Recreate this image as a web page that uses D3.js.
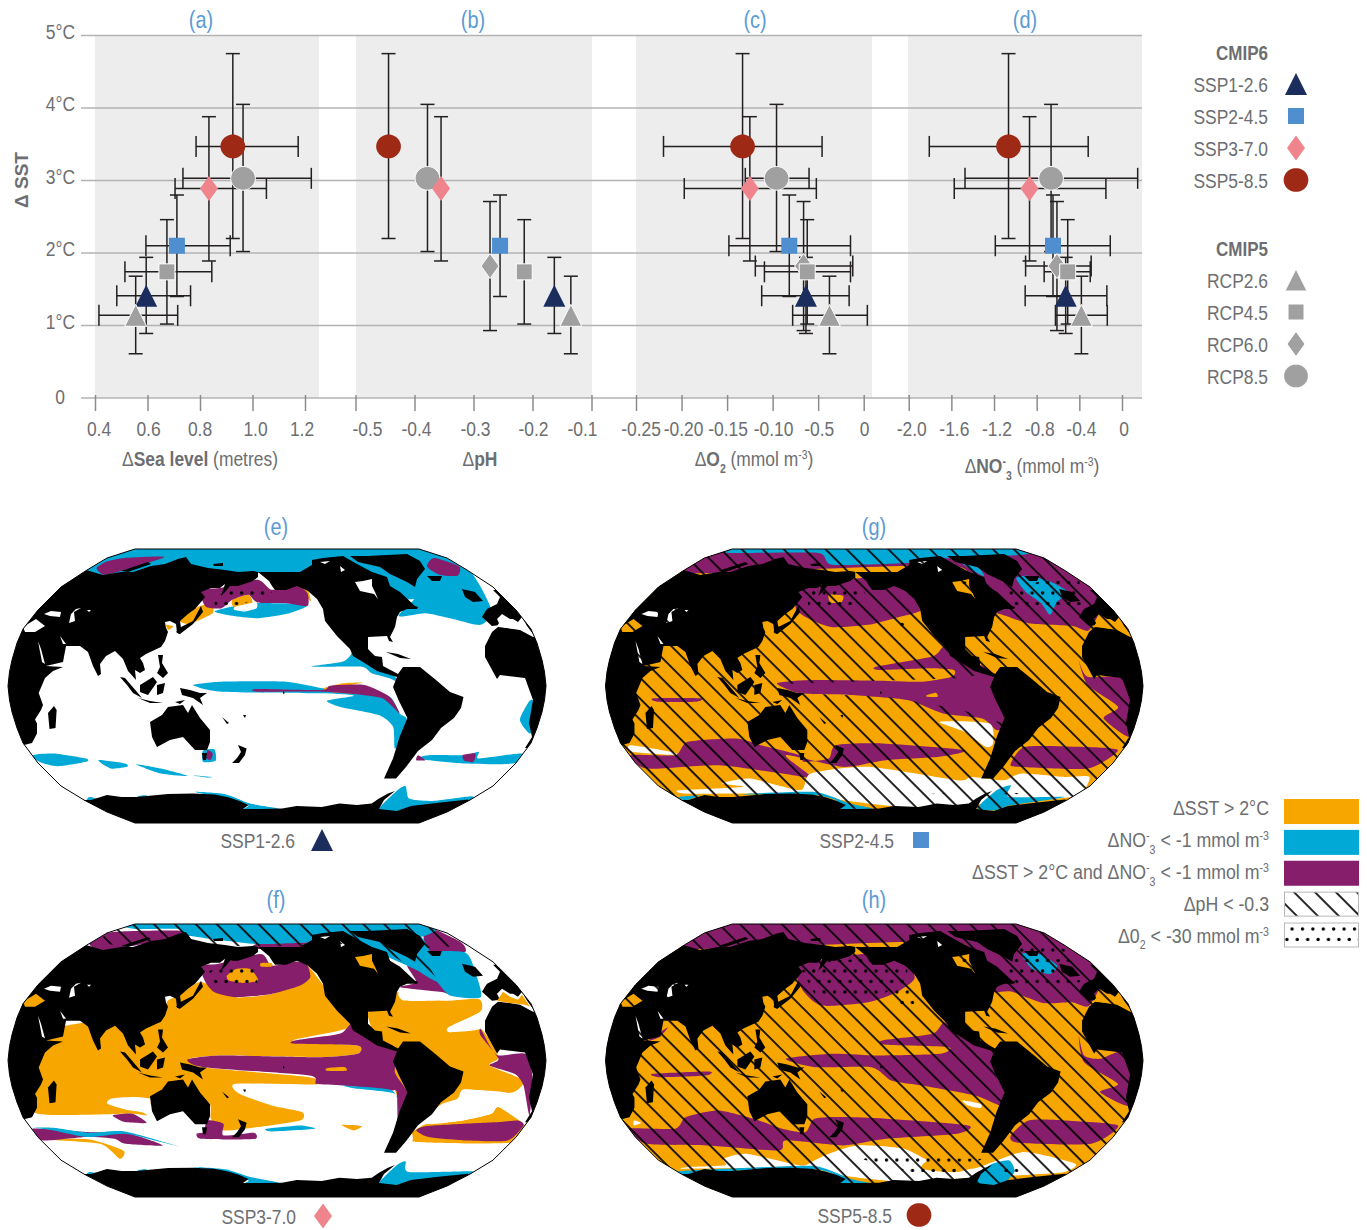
<!DOCTYPE html>
<html>
<head>
<meta charset="utf-8">
<script src="https://cdn.jsdelivr.net/npm/d3@7"></script>
<style>
  html, body { margin: 0; background: #fff; }
  text { font-family: "Liberation Sans", Arial, sans-serif; fill: #6d6e71; }
</style>
</head>
<body>
<svg id="chart" width="1367" height="1230"></svg>
<script>
// ---- scatter panels: values ----
var scenarios = ['SSP5-8.5', 'RCP8.5', 'SSP3-7.0', 'SSP2-4.5', 'RCP6.0', 'RCP4.5', 'SSP1-2.6', 'RCP2.6'];
var sstMean = [3.47, 3.03, 2.89, 2.10, 1.82, 1.74, 1.41, 1.14];
var sstLow  = [2.20, 2.02, 1.89, 1.40, 0.93, 1.02, 0.89, 0.61];
var sstHigh = [4.75, 4.05, 3.88, 2.80, 2.71, 2.46, 1.94, 1.68];

var seaMean = [0.925, 0.964, 0.834, 0.712, null, 0.674, 0.595, 0.555];
var seaLow  = [0.785, 0.735, 0.705, 0.594, null, 0.514, 0.483, 0.415];
var seaHigh = [1.174, 1.224, 1.053, 0.915, null, 0.845, 0.764, 0.715];

var phMean = [-0.444, -0.378, -0.355, -0.255, -0.272, -0.214, -0.163, -0.135];

var o2Mean = [-0.133, -0.0957, -0.125, -0.0817, -0.066, -0.062, -0.0634, -0.0376];
var o2Low  = [-0.2198, -0.130, -0.197, -0.148, -0.119, -0.109, -0.112, -0.078];
var o2High = [-0.0457, -0.060, -0.052, -0.0145, -0.012, -0.0145, -0.016, 0.004];

var no3Mean = [-1.064, -0.665, -0.867, -0.647, -0.61, -0.509, -0.528, -0.381];
var no3Low  = [-1.807, -1.472, -1.573, -1.188, -0.904, -0.73, -0.908, -0.624];
var no3High = [-0.317, 0.147, -0.151, -0.11, -0.289, -0.298, -0.142, -0.138];

var sstTicks = [1, 2, 3, 4, 5];
var seaTicks = [0.4, 0.6, 0.8, 1.0, 1.2];
var phTicks = [-0.5, -0.4, -0.3, -0.2, -0.1];
var o2Ticks = [-0.25, -0.20, -0.15, -0.10, -0.05, 0];
var o2TickLabels = ['-0.25', '-0.20', '-0.15', '-0.10', '-0.5', '0'];
var no3Ticks = [-2.0, -1.6, -1.2, -0.8, -0.4, 0];

var cmip6Names = ['SSP1-2.6', 'SSP2-4.5', 'SSP3-7.0', 'SSP5-8.5'];
var cmip5Names = ['RCP2.6', 'RCP4.5', 'RCP6.0', 'RCP8.5'];

// ---- map outline and land ----
var mapOutline = [[135,549],[107,558],[87,570],[61,587],[38,610],[23,629],[17,643],[12,660],[9.5,672],[8,686],[9.5,700],[12,712],[17,728],[23,743],[38,763],[61,786],[84,800],[107,812],[135,823],[419,823],[447,812],[470,800],[493,786],[516,763],[531,743],[537,728],[542,712],[544.5,700],[546,686],[544.5,672],[542,660],[537,643],[531,629],[516,610],[493,587],[467,570],[447,558],[419,549]];

var landShapes = [
  // Eurasia and Africa
  [[-10,746],[22,745.5],[32,743],[37,733.5],[37,723.5],[35,719.5],[41,710],[43,705],[38.7,693],[45,678],[53,671],[63,667],[46,666],[63,662],[66,646],[80,646],[88,652],[93,666],[98,676],[101,674],[100,664],[106,656],[115,651],[123,659],[128,671],[136,680],[135,670],[140,673],[145,670],[143,663],[140,658],[146,654],[161,647],[165,641],[168,632],[166,628],[165,622],[170,621],[176,624],[177,633],[180,634],[181,628],[180,621],[188,614],[195,609],[201,602],[205,597],[201,592],[211,588],[220,588],[225,584],[221,596],[226,591],[230,586],[238,586],[253,581],[258,577],[258,572],[253,571],[238,572],[225,570],[208,568],[191,564],[186,557],[178,559],[165,564],[151,566],[133,572],[121,572],[103,575],[86,570],[60,570],[-10,600]],
  [[121,571],[148,562],[151,564],[128,572]],
  [[213,564],[223,563],[223,566],[214,566]],
  // Japan
  [[201,606],[193,621],[181,627],[176,632],[180,634],[193,624],[203,612]],
  // South East Asia
  [[120,677],[125,678],[137,692],[142,698],[133,693],[127,685]],
  [[138,698],[150,701],[163,703],[150,703]],
  [[140,685],[153,677],[157,682],[155,685],[148,695],[140,692]],
  [[158,655],[163,655],[162,663],[168,673],[163,678],[157,673],[160,667]],
  [[157,685],[165,683],[163,693],[157,695]],
  [[180,688],[190,690],[200,693],[207,693],[200,698],[203,705],[193,698],[182,695]],
  [[175,702],[185,700],[180,704]],
  // Australia, Tasmania, New Zealand and islands
  [[150,722],[162,715],[168,707],[183,705],[188,713],[192,705],[200,718],[210,730],[210,742],[207,750],[195,750],[183,737],[170,740],[157,747],[152,737]],
  [[202,753],[207,753],[206,760],[203,760]],
  [[232,763],[237,758],[241,752],[238,745],[246.6,748.5],[245,755],[239,763]],
  [[222,717],[229,723],[227,724]],
  [[243,715],[246,715],[245,718]],
  [[283,691],[285,693],[283,694]],
  // Madagascar
  [[48,713],[54,706],[56.6,710],[55.5,728],[49.5,729]],
  // Greenland
  [[350,556],[367,556],[407,554],[420,561],[425,569],[417,579],[415,587],[407,582],[390,574],[380,567],[358,562]],
  // North and South America
  [[258,572],[275,572],[300,572],[312,565],[312,560],[323,558],[343,556],[357,564],[372,572],[387,577],[390,586],[400,592],[415,606],[418,607],[417,609],[407,609],[400,612],[397,617],[395,627],[390,637],[393,642],[389,641],[387,636],[368,637],[368,649],[375,656],[382,657],[383,666],[398,674],[403,667],[420,667],[436,680],[450,692],[463.5,697],[461,708],[454,718],[441,728],[432,740],[418,751],[406,767],[396,778.5],[384,778.5],[393,758.5],[399.6,737],[407.4,718],[398.5,700],[393,687],[397,677],[377,671],[363,662],[353,656],[350,649],[337,636],[325,621],[323,609],[317,599],[308,591],[297,586],[286,590],[275,590],[272,586],[269,581]],
  [[386,652],[398,654],[411,659],[400,658]],
  // Iceland, Britain, Europe, West Africa
  [[427,576],[442,576],[440,581],[432,581]],
  [[462,589],[475,592],[483,601],[473,602],[465,597]],
  [[493,590],[500,597],[497,604],[487,609],[485,612],[482,617],[492,626],[500,625],[497,619],[502,614],[510,619],[513,619],[518,622],[522,617],[527,626],[533,634],[600,640],[600,560],[520,590]],
  [[492,632],[498,627],[507,628],[520,630],[533,637],[600,640],[600,750],[525,748],[532,737],[529,723],[533,700],[525,678],[500,675],[497,679],[485,657],[485,646]],
  // Antarctica
  [[84,800],[91,800],[107,795],[121.6,797],[136,797],[147,796],[168,794],[193,793.6],[214.5,794.6],[229,797.6],[239.5,801],[248.5,805],[243,809],[261,809],[282,808.6],[296.7,806],[321.7,807],[339.5,803.6],[357,805],[371.7,803.6],[379,798.6],[388,793.6],[395,791],[384,800],[379,809],[396.7,811],[411,806],[436,803],[468,799.6],[475,804],[520,840],[30,840],[60,790]]
];
var alwaysWhite = [
  [[44,614],[51,611],[61,612],[60,617],[50,616]],
  [[69,623],[75,621],[74,612],[81,608],[76,609],[71,614]],
  [[38,641],[41,649],[45,664],[42,662]],
  [[60,636],[66,644],[63,644]],
  [[87,610],[91,610],[89,612]],
  [[320,562],[330,561],[325,564]],
  [[340,566],[345,570],[341,572]]
];
var inlandSeas = [
  [[23,627],[36,619],[45,626],[35,632],[25,632]],
  [[497,626],[503,617],[510,622],[518,625],[522,620],[530,632],[525,630],[507,628]],
  [[355,582],[363,581],[372,579],[372,586],[375,592],[378,599],[374,594],[360,591]]
];

var fullMap = [[[-50,50],[1650,50],[1650,1000],[-50,1000]]];

// ---- panel (e) SSP1-2.6 regions ----
var eCyan = [
  [[240,178],[300,145],[378,118],[1175,118],[1310,178],[1375,300],[1345,345],[1260,325],[1190,310],[1115,318],[1172,240],[1000,190],[800,190],[500,190],[300,200]],
  [[880,140],[1180,140],[1200,260],[1000,260]],
  [[600,305],[650,290],[720,280],[860,285],[810,310],[720,325],[650,318]],
  [[905,310],[925,340],[975,410],[1030,450],[1095,490],[1120,520],[1090,505],[1040,490],[1010,470],[870,470],[960,455],[985,420],[930,360]],
  [[540,525],[620,515],[800,515],[905,535],[985,540],[1090,560],[1118,610],[1138,625],[1130,680],[1105,715],[1100,650],[1060,615],[950,590],[915,572],[990,557],[900,550],[620,545]],
  [[1480,575],[1492,575],[1485,670],[1455,630]],
  [[90,735],[150,730],[240,745],[240,755],[160,768],[110,755]],
  [[275,750],[350,760],[355,770],[310,775]],
  [[380,762],[450,775],[525,797],[450,790]],
  [[535,795],[590,800],[580,802]],
  [[1165,745],[1200,735],[1300,735],[1340,725],[1340,745],[1460,730],[1462,755],[1400,762],[1300,760],[1200,750]],
  [[568,722],[600,718],[603,752],[568,755]],
  [[250,860],[275,868],[240,875]],
  [[385,858],[410,855],[405,868]],
  [[545,845],[630,852],[700,880],[780,895],[680,900],[695,885],[640,865]],
  [[1060,897],[1110,842],[1135,828],[1145,865],[1210,872],[1320,858],[1310,872],[1150,890],[1110,905]]
];
var eOrange = [
  [[650,270],[695,255],[705,280],[655,292]],
  [[500,330],[555,290],[590,285],[595,310],[530,342]],
  [[830,230],[860,238],[870,275],[850,250]],
  [[905,535],[960,520],[1015,518],[960,530],[985,550],[920,545]],
  [[465,345],[485,350],[470,360]]
];
var ePurple = [
  [[270,175],[290,195],[350,180],[460,142],[350,145],[300,155]],
  [[1195,170],[1215,145],[1285,170],[1280,198],[1230,195]],
  [[560,240],[615,235],[720,210],[760,240],[830,228],[860,250],[860,288],[800,280],[720,278],[695,255],[650,270],[620,295],[575,290]],
  [[720,537],[900,540],[925,527],[1020,525],[1090,560],[1118,610],[1070,565],[990,552],[900,545],[720,545]],
  [[1170,735],[1190,750],[1165,750]],
  [[1295,735],[1330,730],[1325,755],[1300,752]],
  [[580,720],[595,730],[590,748],[578,745]]
];
var eWhite = [
  [[660,290],[715,278],[718,295],[685,305],[655,300]]
];
var eDots = [[[600,262],[660,235],[760,235],[760,250],[660,290],[600,290]]];

// ---- panel (f) SSP3-7.0 regions ----
var fOrange = [
  [[60,500],[150,430],[300,400],[440,390],[470,345],[500,330],[555,290],[590,300],[660,335],[760,325],[850,285],[860,240],[905,300],[985,420],[820,465],[1000,480],[1000,505],[900,515],[620,510],[530,520],[570,545],[865,575],[885,597],[660,595],[670,625],[760,660],[845,680],[840,705],[720,725],[625,735],[590,700],[580,650],[430,660],[420,640],[370,635],[310,640],[300,655],[350,672],[395,680],[410,690],[360,685],[105,685],[60,600]],
  [[1030,395],[1080,375],[1110,320],[1240,345],[1340,340],[1345,378],[1258,425],[1260,440],[1345,430],[1395,515],[1370,540],[1465,585],[1430,622],[1300,612],[1280,640],[1230,660],[1150,740],[1195,715],[1295,705],[1375,685],[1395,665],[1465,715],[1465,730],[1430,772],[1170,770],[1150,735]],
  [[125,762],[250,762],[345,795],[335,820],[280,775]]
];
var fWhite = [
  [[1290,625],[1300,612],[1420,622],[1482,665],[1482,700],[1395,665],[1375,685],[1295,705],[1195,715],[1240,670],[1285,650]],
  [[1120,318],[1240,320],[1340,332],[1372,340],[1375,380],[1345,430],[1260,440],[1255,425],[1345,378],[1340,340],[1240,345],[1130,345]]
];
var fPurple = [
  [[250,175],[310,140],[500,135],[530,150],[345,185],[285,195]],
  [[1185,150],[1200,125],[1290,170],[1300,200],[1200,195]],
  [[1140,240],[1220,285],[1260,330],[1240,320],[1120,305],[1165,290]],
  [[560,240],[610,235],[730,205],[760,240],[830,228],[860,240],[868,275],[840,300],[760,325],[660,335],[600,320],[575,290]],
  [[720,175],[880,170],[880,190],[720,190]],
  [[525,522],[620,510],[900,515],[1000,505],[1000,480],[825,475],[825,465],[950,445],[985,415],[1040,450],[1110,490],[1105,560],[1140,620],[1145,680],[1115,720],[1110,620],[1090,615],[960,600],[885,595],[865,570],[570,545]],
  [[1345,430],[1370,480],[1395,510],[1470,505],[1490,570],[1482,690],[1465,600],[1440,565],[1370,540],[1395,520],[1345,450]],
  [[1165,735],[1195,722],[1300,715],[1400,710],[1450,705],[1465,720],[1420,765],[1300,765],[1200,755]],
  [[315,690],[370,685],[410,712],[350,710]],
  [[90,730],[240,740],[360,745],[455,780],[350,775],[320,760],[240,755],[120,765]],
  [[580,705],[625,715],[625,750],[710,742],[715,760],[650,762],[560,760],[550,745],[570,740]],
  [[960,720],[1005,722],[990,728]]
];
var fCyan = [
  [[378,115],[1175,115],[1190,150],[1000,175],[880,170],[720,175],[530,150],[500,130],[378,130]],
  [[1000,150],[1175,150],[1225,285],[1160,250],[1050,195]],
  [[1165,200],[1300,200],[1330,260],[1345,335],[1260,330],[1220,285],[1165,225]],
  [[960,600],[1090,612],[1112,640],[1115,680],[1105,625],[1000,610]],
  [[95,727],[150,727],[250,742],[350,738],[515,788],[450,770],[350,745],[245,755],[150,735]],
  [[745,730],[840,720],[880,730],[760,738]],
  [[250,860],[275,866],[240,872]],
  [[385,855],[410,852],[405,865]],
  [[540,845],[630,852],[700,875],[780,893],[680,898],[695,885],[640,862]],
  [[1060,895],[1110,840],[1135,828],[1145,860],[1320,858],[1310,868],[1150,890],[1110,900]]
];
var fOrangeTop = [
  [[635,270],[660,250],[700,250],[722,285],[680,292],[640,285]],
  [[730,232],[760,232],[760,243],[730,243]],
  [[915,548],[965,545],[968,556],[915,556]],
  [[955,718],[1012,722],[990,735]]
];
var fHatch = [
  [[250,175],[378,100],[1172,100],[1310,178],[1170,190],[1225,285],[1150,245],[1040,170],[880,180],[700,182],[450,180]]
];
var fDots = [[[575,265],[610,240],[720,240],[720,300],[590,310]]];

// ---- panel (g) SSP2-4.5 regions ----
var gPurple = [
  [[200,130],[370,100],[1170,100],[1400,250],[1370,360],[1320,348],[1200,340],[1110,310],[1000,300],[1000,170],[250,190]],
  [[555,240],[740,205],[860,240],[900,300],[825,325],[750,345],[650,352],[590,330],[550,300]],
  [[495,520],[590,510],[780,512],[900,515],[985,500],[990,480],[920,475],[780,480],[775,470],[930,440],[965,410],[1030,450],[1100,490],[1135,640],[1110,660],[1070,625],[960,610],[860,570],[700,555],[560,550]],
  [[1340,450],[1365,500],[1480,510],[1490,680],[1410,625],[1450,590],[1365,525]],
  [[150,565],[280,565],[270,575],[160,575]],
  [[85,735],[210,735],[245,695],[380,685],[450,705],[560,735],[570,755],[640,745],[660,705],[790,700],[1020,720],[950,740],[800,750],[680,770],[520,735],[590,800],[510,790],[330,765],[130,775]],
  [[1150,760],[1190,710],[1340,710],[1450,720],[1365,775],[1170,770]]
];
var gOrangeSpots = [
  [[640,255],[680,258],[675,278],[645,278]],
  [[915,555],[940,548],[945,560],[915,560]]
];
var gWhite = [
  [[85,705],[200,725],[210,735],[90,725]],
  [[340,820],[420,805],[560,840],[590,790],[750,770],[1000,810],[1040,800],[1130,810],[1180,790],[1300,800],[1370,800],[1340,855],[1220,870],[1000,885],[850,890],[680,870],[600,850],[400,850],[240,850],[220,840],[400,830]],
  [[950,635],[1090,640],[1100,700],[1080,710],[1020,665]]
];
var gCyan = [
  [[370,118],[1180,118],[1180,135],[880,150],[860,160],[650,165],[610,130],[370,130]],
  [[1165,205],[1195,198],[1260,215],[1315,250],[1280,275],[1260,315],[1235,280],[1190,245]],
  [[1005,155],[1060,175],[1075,200],[1040,180]],
  [[220,860],[280,855],[240,870]],
  [[395,852],[600,845],[700,880],[760,895],[675,900],[660,870],[600,855]],
  [[1055,895],[1110,840],[1150,825],[1145,860],[1300,860],[1150,885],[1105,900]]
];
var gHatch = [
  fullMap[0],
  [[520,522],[560,550],[800,560],[1000,595],[1130,640],[1100,490],[1000,505]]
];
var gDots = [
  [[575,240],[740,225],[740,270],[680,300],[585,300]],
  [[1130,240],[1340,190],[1350,300],[1170,300]],
  [[1000,215],[1040,215],[1040,240],[1000,240]],
  [[870,852],[965,850],[965,858],[870,860]],
  [[1130,848],[1175,848],[1175,860],[1130,860]],
  [[825,320],[865,320],[865,350],[825,350]]
];

// ---- panel (h) SSP5-8.5 regions ----
var hPurple = [
  [[200,130],[370,100],[1170,100],[1400,250],[1370,360],[1320,350],[1240,352],[1150,318],[1100,320],[1000,300],[1000,170],[250,190]],
  [[555,240],[740,205],[860,235],[880,280],[830,320],[750,350],[620,360],[565,310]],
  [[520,520],[650,505],[780,510],[950,505],[975,485],[800,478],[790,465],[930,445],[965,410],[1030,450],[1100,490],[1135,640],[1120,660],[1050,630],[900,600],[815,585],[760,545],[600,545]],
  [[1340,450],[1355,510],[1400,520],[1470,500],[1490,660],[1400,620],[1450,595],[1355,530]],
  [[148,565],[305,558],[295,570],[165,575]],
  [[135,465],[190,425],[165,455]],
  [[80,730],[210,730],[240,695],[330,675],[430,700],[510,730],[575,740],[600,700],[680,695],[800,700],[1030,720],[1000,745],[800,760],[680,780],[520,765],[500,795],[300,780],[130,775]],
  [[1150,750],[1200,705],[1300,705],[1450,720],[1375,775],[1170,772]]
];
var hCyan = [
  [[1180,205],[1230,205],[1280,240],[1260,265],[1210,250]],
  [[220,858],[400,848],[600,842],[700,880],[760,895],[675,898],[660,870],[600,852],[400,855],[240,870]],
  [[1050,895],[1090,840],[1145,825],[1160,860],[1120,900]]
];
var hWhite = [
  [[95,705],[115,712],[95,720]],
  [[345,820],[410,805],[560,840],[600,825],[640,805],[720,780],[850,790],[930,830],[1040,850],[1100,830],[1190,800],[1330,835],[1300,860],[1200,868],[1000,880],[850,890],[670,870],[600,850],[400,848],[230,850],[250,845],[350,840]],
  [[1015,645],[1065,655],[1065,668],[1030,660]]
];
var hOrangeSpots = [
  [[900,850],[930,820],[1060,825],[1095,828],[1000,860]]
];
var hDots = [
  [[565,255],[640,225],[740,220],[860,240],[860,290],[790,325],[600,325]],
  [[825,310],[880,310],[880,365],[825,365]],
  [[1130,240],[1180,170],[1300,190],[1345,290],[1170,300]],
  [[1000,215],[1040,215],[1040,240],[1000,240]],
  [[710,815],[1070,820],[1000,860],[870,860]],
  [[1125,848],[1175,848],[1175,860],[1125,860]]
];

var legendLabels = [
  [{t: '\u0394SST > 2\u00b0C'}],
  [{t: '\u0394NO'}, {t: '-', sup: 1}, {t: '3', sub: 1}, {t: ' < -1 mmol m'}, {t: '-3', sup: 1}],
  [{t: '\u0394SST > 2\u00b0C and \u0394NO'}, {t: '-', sup: 1}, {t: '3', sub: 1}, {t: ' < -1 mmol m'}, {t: '-3', sup: 1}],
  [{t: '\u0394pH < -0.3'}],
  [{t: '\u03940'}, {t: '2', sub: 1}, {t: ' < -30 mmol m'}, {t: '-3', sup: 1}]
];

// ---- look ----
var ORANGE = '#f7a600', CYAN = '#00a9d6', PURPLE = '#871e6b', BLACK = '#000', WHITE = '#fff';
var LINE = '#b3b3b3', PANEL = '#ededed', BAR = '#231f20', BLUE = '#5b9bd5';

var markerStyle = {
  'SSP5-8.5': {shape: 'circle', fill: '#9e2a16'},
  'RCP8.5':   {shape: 'circle', fill: '#a0a0a0', edge: 1},
  'SSP3-7.0': {shape: 'diamond', fill: '#f0848d'},
  'SSP2-4.5': {shape: 'square', fill: '#4f8fd0'},
  'RCP6.0':   {shape: 'diamond', fill: '#a0a0a0', edge: 1},
  'RCP4.5':   {shape: 'square', fill: '#a0a0a0', edge: 1},
  'SSP1-2.6': {shape: 'triangle', fill: '#1b2d5c'},
  'RCP2.6':   {shape: 'triangle', fill: '#a0a0a0', edge: 1}
};

var svg = d3.select('#chart');
var defs = svg.append('defs');

// hatch and dot fills
var hatch = defs.append('pattern').attr('id', 'hatch').attr('patternUnits', 'userSpaceOnUse')
  .attr('width', 14.8).attr('height', 14.8).attr('patternTransform', 'rotate(-45)');
hatch.append('line').attr('x1', 3).attr('x2', 3).attr('y1', 0).attr('y2', 14.8)
  .attr('stroke', BLACK).attr('stroke-width', 1.7);

var dotFill = defs.append('pattern').attr('id', 'dots').attr('patternUnits', 'userSpaceOnUse')
  .attr('width', 10.4).attr('height', 21);
dotFill.append('circle').attr('cx', 2.5).attr('cy', 5).attr('r', 1.7).attr('fill', BLACK);
dotFill.append('circle').attr('cx', 7.7).attr('cy', 15.5).attr('r', 1.7).attr('fill', BLACK);

// text with sub and superscripts, squeezed to look like the condensed face of the figure
function addText(parent, x, y, segs, opt) {
  opt = opt || {};
  var size = opt.size || 21;
  var squeeze = opt.squeeze || 0.83;
  var tf = 'translate(' + x + ',' + y + ')' + (opt.rotate ? ' rotate(' + opt.rotate + ')' : '') + ' scale(' + squeeze + ',1)';
  var txt = parent.append('text').attr('transform', tf)
    .attr('text-anchor', opt.anchor || 'middle').attr('font-size', size);
  if (opt.fill) txt.style('fill', opt.fill);
  if (typeof segs === 'string') segs = [{t: segs}];
  var shift = 0;
  segs.forEach(function(s) {
    var target = s.sub ? size * 0.33 : (s.sup ? -size * 0.33 : 0);
    txt.append('tspan').attr('dy', target - shift)
      .attr('font-size', (s.sub || s.sup) ? size * 0.6 : size)
      .attr('font-weight', s.b ? 'bold' : 'normal').text(s.t);
    shift = target;
  });
  return txt;
}

function markerPath(shape, w, h) {
  var p = d3.path();
  if (shape === 'circle') {
    return d3.line().curve(d3.curveBasisClosed)(d3.range(0, 24).map(function(i) {
      var a = i / 24 * 2 * Math.PI;
      return [Math.cos(a) * w / 2, Math.sin(a) * h / 2];
    }));
  }
  if (shape === 'square') {
    p.rect(-w / 2, -h / 2, w, h);
  } else if (shape === 'diamond') {
    p.moveTo(0, -h / 2); p.lineTo(w / 2, 0); p.lineTo(0, h / 2); p.lineTo(-w / 2, 0); p.closePath();
  } else {
    p.moveTo(0, -h / 2); p.lineTo(w / 2, h / 2); p.lineTo(-w / 2, h / 2); p.closePath();
  }
  return p.toString();
}

var markerSize = {circle: [25, 24], square: [16, 16], diamond: [18, 25], triangle: [22, 22]};

function drawMarker(parent, name, x, y) {
  var st = markerStyle[name], sz = markerSize[st.shape];
  parent.append('path').attr('d', markerPath(st.shape, sz[0], sz[1]))
    .attr('transform', 'translate(' + x + ',' + y + ')')
    .attr('fill', st.fill)
    .attr('stroke', st.edge ? WHITE : 'none').attr('stroke-width', st.edge ? 1 : 0);
}

// ---- scatter panels ----
var yTop = d3.scaleLinear().domain([0, 5]).range([398, 35.5]);

var scatterPanels = [
  {letter: '(a)', letterX: 201, left: 95, right: 319, domain: [0.4, 1.2], range: [95, 305], ticks: seaTicks,
   labels: ['0.4', '0.6', '0.8', '1.0', '1.2'], labelShift: [4, 1, 0, 3, -3],
   mean: seaMean, low: seaLow, high: seaHigh, titleX: 200, titleY: 466,
   title: [{t: '\u0394'}, {t: 'Sea level', b: 1}, {t: ' (metres)'}]},
  {letter: '(b)', letterX: 473, left: 356, right: 592, domain: [-0.5, -0.1], range: [355.5, 591.5], ticks: phTicks,
   labels: ['-0.5', '-0.4', '-0.3', '-0.2', '-0.1'], labelShift: [12, 2, 2, 1, -9],
   mean: phMean, low: null, high: null, titleX: 480, titleY: 466,
   title: [{t: '\u0394'}, {t: 'pH', b: 1}]},
  {letter: '(c)', letterX: 755, left: 636, right: 872, domain: [-0.25, 0], range: [636, 863.7], ticks: o2Ticks,
   labels: o2TickLabels, labelShift: [5, 2, 1, 1, 1, 1],
   mean: o2Mean, low: o2Low, high: o2High, titleX: 754, titleY: 466,
   title: [{t: '\u0394'}, {t: 'O', b: 1}, {t: '2', sub: 1, b: 1}, {t: ' (mmol m'}, {t: '-3', sup: 1}, {t: ')'}]},
  {letter: '(d)', letterX: 1025, left: 908, right: 1142, domain: [-2, 0], range: [908.7, 1122], ticks: no3Ticks,
   labels: ['-2.0', '-1.6', '-1.2', '-0.8', '-0.4', '0'], labelShift: [3, 3, 3, 3, 2, 2],
   mean: no3Mean, low: no3Low, high: no3High, titleX: 1032, titleY: 473,
   title: [{t: '\u0394'}, {t: 'NO', b: 1}, {t: '-', sup: 1, b: 1}, {t: '3', sub: 1, b: 1}, {t: ' (mmol m'}, {t: '-3', sup: 1}, {t: ')'}]}
];

var topG = svg.append('g');

scatterPanels.forEach(function(p) {
  topG.append('rect').attr('x', p.left).attr('y', yTop(5)).attr('width', p.right - p.left)
    .attr('height', yTop(0) - yTop(5)).attr('fill', PANEL);
});

sstTicks.concat([0]).forEach(function(v) {
  topG.append('line').attr('x1', 81).attr('x2', 1142).attr('y1', yTop(v)).attr('y2', yTop(v))
    .attr('stroke', LINE).attr('stroke-width', 1.5);
  addText(topG, v === 0 ? 65 : 75, yTop(v) + (v === 0 ? 6 : 3), v === 0 ? '0' : v + '\u00b0C', {anchor: 'end'});
});

addText(topG, 28, 180, [{t: '\u0394 SST', b: 1}], {rotate: -90, size: 19, squeeze: 1});

scatterPanels.forEach(function(p) {
  var x = d3.scaleLinear().domain(p.domain).range(p.range);
  var g = topG.append('g');

  addText(g, p.letterX, 28, p.letter, {fill: BLUE, size: 24});

  var axis = d3.axisBottom(x).tickValues(p.ticks).tickSize(13).tickFormat('');
  var axisG = g.append('g').attr('transform', 'translate(0,' + yTop(0) + ')').call(axis);
  axisG.select('.domain').remove();
  axisG.selectAll('line').attr('stroke', '#8c8c8c').attr('stroke-width', 1.5);
  axisG.selectAll('line').attr('y1', -3);

  p.ticks.forEach(function(t, i) {
    addText(g, x(t) + p.labelShift[i], 435.5, p.labels[i]);
  });
  addText(g, p.titleX, p.titleY, p.title);

  var bars = g.append('g').attr('stroke', BAR).attr('stroke-width', 1.5).attr('fill', 'none');
  scenarios.forEach(function(name, i) {
    if (p.mean[i] === null) return;
    var cx = x(p.mean[i]), cy = yTop(sstMean[i]);
    bars.append('line').attr('x1', cx).attr('x2', cx).attr('y1', yTop(sstLow[i])).attr('y2', yTop(sstHigh[i]));
    [sstLow[i], sstHigh[i]].forEach(function(v) {
      bars.append('line').attr('x1', cx - 7).attr('x2', cx + 7).attr('y1', yTop(v)).attr('y2', yTop(v));
    });
    if (p.low) {
      bars.append('line').attr('x1', x(p.low[i])).attr('x2', x(p.high[i])).attr('y1', cy).attr('y2', cy);
      [p.low[i], p.high[i]].forEach(function(v) {
        bars.append('line').attr('x1', x(v)).attr('x2', x(v)).attr('y1', cy - 10.5).attr('y2', cy + 10.5);
      });
    }
  });
  scenarios.forEach(function(name, i) {
    if (p.mean[i] === null) return;
    drawMarker(g, name, x(p.mean[i]), yTop(sstMean[i]));
  });
});

// scenario legend
var legendY = d3.scaleLinear().domain([0, 1]).range([85, 117]);
var legG = svg.append('g');
addText(legG, 1268, 60, [{t: 'CMIP6', b: 1}], {anchor: 'end', size: 20.5});
cmip6Names.forEach(function(n, i) {
  addText(legG, 1268, legendY(i) + 7, n, {anchor: 'end'});
  drawMarker(legG, n, 1296, legendY(i) - 1);
});
addText(legG, 1268, 256, [{t: 'CMIP5', b: 1}], {anchor: 'end', size: 20.5});
cmip5Names.forEach(function(n, i) {
  addText(legG, 1268, legendY(i + 6.125) + 7, n, {anchor: 'end'});
  drawMarker(legG, n, 1296, legendY(i + 6.125) - 1);
});

// ---- maps ----
var mapPanels = [
  {id: 'e', letter: '(e)', letterX: 276, letterY: 535, x0: 8, x1: 546, y0: 549, y1: 823, xDom: [22, 1528], yDom: [118, 938],
   layers: [[CYAN, eCyan], [ORANGE, eOrange], [PURPLE, ePurple], [WHITE, eWhite]], inland: WHITE,
   hatch: null, dots: eDots, label: 'SSP1-2.6', labelX: 295, labelY: 848, markerX: 322},
  {id: 'g', letter: '(g)', letterX: 874, letterY: 535, x0: 605.5, x1: 1143, y0: 549, y1: 823, xDom: [15, 1520], yDom: [118, 938],
   layers: [[ORANGE, fullMap], [PURPLE, gPurple], [ORANGE, gOrangeSpots], [WHITE, gWhite], [CYAN, gCyan]], inland: ORANGE,
   hatch: gHatch, dots: gDots, label: 'SSP2-4.5', labelX: 894, labelY: 848, markerX: 921},
  {id: 'f', letter: '(f)', letterX: 276, letterY: 908, x0: 8, x1: 546, y0: 924, y1: 1197, xDom: [22, 1528], yDom: [115, 935],
   layers: [[ORANGE, fOrange], [WHITE, fWhite], [PURPLE, fPurple], [CYAN, fCyan], [ORANGE, fOrangeTop]], inland: ORANGE,
   hatch: fHatch, dots: fDots, label: 'SSP3-7.0', labelX: 296, labelY: 1224, markerX: 323},
  {id: 'h', letter: '(h)', letterX: 874, letterY: 908, x0: 605.5, x1: 1143, y0: 924, y1: 1197, xDom: [15, 1520], yDom: [115, 935],
   layers: [[ORANGE, fullMap], [PURPLE, hPurple], [WHITE, hWhite], [ORANGE, hOrangeSpots], [CYAN, hCyan]], inland: ORANGE,
   hatch: fullMap, dots: hDots, label: 'SSP5-8.5', labelX: 892, labelY: 1223, markerX: 919}
];

mapPanels.forEach(function(m) {
  // land and outline share the frame of panel (e), each panel's regions were read in its own crop
  var xLand = d3.scaleLinear().domain([8, 546]).range([m.x0, m.x1]);
  var yLand = d3.scaleLinear().domain([549, 823]).range([m.y0, m.y1]);
  var xReg = d3.scaleLinear().domain(m.xDom).range([m.x0, m.x1]);
  var yReg = d3.scaleLinear().domain(m.yDom).range([m.y0, m.y1]);

  var landLine = d3.line().x(function(d) { return xLand(d[0]); }).y(function(d) { return yLand(d[1]); }).curve(d3.curveLinearClosed);
  var regLine = d3.line().x(function(d) { return xReg(d[0]); }).y(function(d) { return yReg(d[1]); }).curve(d3.curveLinearClosed);
  // ocean regions get soft edges, they are contoured fields in the figure
  var softLine = d3.line().x(function(d) { return xReg(d[0]); }).y(function(d) { return yReg(d[1]); }).curve(d3.curveCardinalClosed.tension(0.35));

  defs.append('clipPath').attr('id', 'clip-' + m.id).append('path').attr('d', landLine(mapOutline));

  var g = svg.append('g');
  var inner = g.append('g').attr('clip-path', 'url(#clip-' + m.id + ')');
  inner.append('path').attr('d', landLine(mapOutline)).attr('fill', WHITE);

  m.layers.forEach(function(layer) {
    inner.selectAll(null).data(layer[1]).enter().append('path')
      .attr('d', softLine).attr('fill', layer[0]);
  });

  inner.selectAll(null).data(landShapes).enter().append('path').attr('d', landLine).attr('fill', BLACK);
  inner.selectAll(null).data(inlandSeas).enter().append('path').attr('d', landLine).attr('fill', m.inland);
  inner.selectAll(null).data(alwaysWhite).enter().append('path').attr('d', landLine).attr('fill', WHITE);

  if (m.hatch) {
    inner.append('path').attr('d', m.hatch.map(regLine).join(''))
      .attr('fill', 'url(#hatch)').attr('fill-rule', 'evenodd');
  }
  inner.selectAll(null).data(m.dots).enter().append('path').attr('d', regLine).attr('fill', 'url(#dots)');

  g.append('path').attr('d', landLine(mapOutline)).attr('fill', 'none').attr('stroke', BLACK).attr('stroke-width', 1);

  addText(g, m.letterX, m.letterY, m.letter, {fill: BLUE, size: 24});
  addText(g, m.labelX, m.labelY, m.label, {anchor: 'end'});
  drawMarker(g, m.label, m.markerX, m.labelY - 8);
});

// ---- region legend ----
var swatchFills = [ORANGE, CYAN, PURPLE, 'url(#hatch)', 'url(#dots)'];
var swatchY = d3.scaleLinear().domain([0, 4]).range([799, 922.5]);
var legendTextY = d3.scaleLinear().domain([0, 4]).range([815, 942.5]);
var regLeg = svg.append('g');
legendLabels.forEach(function(lab, i) {
  addText(regLeg, 1269, legendTextY(i), lab, {anchor: 'end', size: 21, squeeze: 0.845});
  var patterned = i > 2;
  regLeg.append('rect').attr('x', patterned ? 1284.5 : 1284).attr('y', swatchY(i) + (patterned ? .5 : 0))
    .attr('width', patterned ? 74 : 75).attr('height', patterned ? 24 : 25)
    .attr('fill', swatchFills[i])
    .attr('stroke', patterned ? '#b8b8b8' : 'none');
});
</script>
</body>
</html>
